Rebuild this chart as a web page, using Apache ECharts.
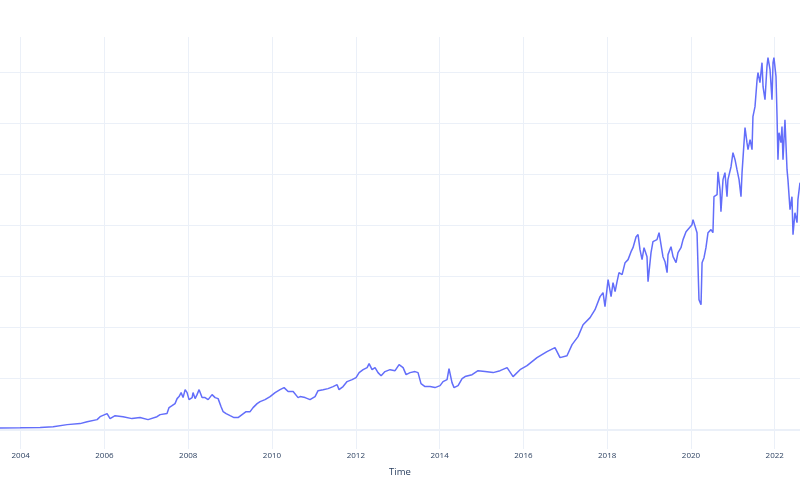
<!DOCTYPE html>
<html>
<head>
<meta charset="utf-8">
<script src="https://cdn.jsdelivr.net/npm/echarts@6/dist/echarts.min.js"></script>
<style>
  html, body { margin: 0; padding: 0; background: #fff; }
  #main-chart { width: 800px; height: 500px; }
</style>
</head>
<body>
<div id="main-chart"></div>
<script>
// 読み取った値（日付と終値）
const dates = [
  '2003-07-05','2003-12-28','2004-06-19','2004-10-11','2005-02-10','2005-06-03','2005-08-03','2005-10-29',
  '2005-11-24','2006-01-24','2006-02-19','2006-04-04','2006-06-12','2006-08-29','2006-11-07','2007-01-16',
  '2007-04-04',
  '2007-05-01','2007-06-30','2007-07-18','2007-08-13','2007-09-08','2007-09-26','2007-10-13','2007-10-31',
  '2007-11-17','2007-12-05','2007-12-22','2008-01-08','2008-02-04','2008-02-12','2008-03-01','2008-03-18',
  '2008-04-05','2008-05-01','2008-05-27','2008-06-23','2008-07-27','2008-08-23','2008-09-18','2008-10-14',
  '2008-11-01','2008-11-27','2009-01-01','2009-02-04','2009-03-11','2009-04-15','2009-05-20','2009-06-24',
  '2009-07-20','2009-08-24','2009-09-19','2009-11-01','2009-12-15','2010-01-28','2010-03-12','2010-04-16',
  '2010-05-21','2010-07-04','2010-08-16','2010-09-03','2010-10-16','2010-11-28','2011-01-11','2011-02-06',
  '2011-03-22','2011-05-04','2011-06-17','2011-07-22','2011-08-08','2011-09-12','2011-10-17','2011-11-30',
  '2012-01-03','2012-01-30','2012-03-05','2012-04-09','2012-04-26','2012-05-22','2012-06-17','2012-07-13',
  '2012-08-09','2012-09-12','2012-10-26','2012-12-09','2013-01-13','2013-02-17','2013-03-15','2013-04-19',
  '2013-06-01','2013-06-27','2013-07-23','2013-08-27','2013-10-10','2013-11-22','2014-01-05','2014-01-31',
  '2014-03-07','2014-03-24','2014-04-19','2014-05-07','2014-06-11',
  '2014-07-16','2014-08-11','2014-10-11','2014-12-02','2015-02-01','2015-04-12','2015-06-12','2015-08-12',
  '2015-10-03','2015-12-03','2016-02-02','2016-04-29','2016-07-25','2016-10-03','2016-11-16','2017-01-16',
  '2017-03-01','2017-04-22','2017-06-05','2017-08-05','2017-09-17',
  '2017-10-31','2017-11-26','2017-12-13','2018-01-09','2018-02-04','2018-02-21',
  '2018-03-11','2018-03-28','2018-04-14','2018-05-11','2018-06-06','2018-07-02','2018-07-28','2018-08-14',
  '2018-09-10','2018-09-27','2018-10-14','2018-11-01','2018-11-18','2018-12-14','2018-12-23','2019-01-18',
  '2019-02-04','2019-03-11','2019-03-29','2019-04-15','2019-05-02','2019-05-20','2019-06-07','2019-06-15',
  '2019-07-11','2019-07-29','2019-08-24','2019-09-10','2019-10-06','2019-10-24','2019-11-19','2019-12-06',
  '2020-01-10','2020-01-19','2020-02-23','2020-03-11','2020-03-29','2020-04-07','2020-04-24','2020-05-11',
  '2020-05-29','2020-06-24','2020-07-11','2020-07-20','2020-08-16','2020-08-24','2020-09-11','2020-09-19',
  '2020-10-07','2020-10-24','2020-11-11','2020-11-19','2020-12-16','2021-01-02','2021-01-20','2021-02-06',
  '2021-02-24','2021-03-13','2021-03-22','2021-04-17','2021-05-04','2021-05-13','2021-05-31','2021-06-17',
  '2021-06-25','2021-07-13','2021-07-31','2021-08-08','2021-08-25','2021-09-12','2021-09-21','2021-10-08',
  '2021-10-25','2021-11-03','2021-11-21','2021-12-08','2021-12-17','2021-12-25','2022-01-12','2022-01-21',
  '2022-01-29','2022-02-07','2022-02-24','2022-03-05','2022-03-14','2022-03-31','2022-04-18','2022-04-26',
  '2022-05-14','2022-05-31','2022-06-09','2022-06-26','2022-07-14','2022-07-22','2022-08-09'
];
const prices = [
  1.6, 1.8, 2.2, 2.9, 4.9, 5.9, 7.8, 9.8,
  12.7, 15.7, 10.8, 13.7, 12.7, 10.8, 11.8, 9.8,
  12.7,
  14.7, 15.7, 21.6, 23.5, 25.5, 30.4, 32.4, 36.3,
  31.4, 39.2, 36.3, 29.4, 31.4, 36.3, 30.4, 34.3,
  39.2, 31.4, 31.4, 29.4, 34.3, 31.4, 30.4, 22.5,
  17.6, 15.7, 13.7, 11.8, 11.8, 14.7, 17.6, 17.6,
  21.6, 25.5, 27.5, 29.4, 32.4, 36.3, 39.2, 41.2,
  37.3, 37.3, 31.4, 32.4, 31.4, 29.4, 32.4, 38.2,
  39.2, 40.2, 42.2, 44.1, 39.2, 42.2, 47.1, 49.0,
  51.0, 55.9, 58.8, 60.8, 64.7, 58.8, 60.8, 55.9,
  52.9, 56.9, 58.8, 57.8, 63.7, 60.8, 53.9, 55.9,
  56.9, 55.9, 45.1, 42.2, 42.2, 41.2, 43.1, 47.1,
  49.0, 59.8, 46.1, 41.2, 43.1,
  50.0, 52.0, 53.9, 57.8, 56.9, 55.9, 57.8, 60.8,
  52.0, 58.8, 62.7, 70.6, 76.5, 80.4, 70.6, 72.5,
  83.3, 91.2, 102.9, 109.8, 117.6,
  130.4, 134.3, 120.6, 147.1, 130.4, 144.1,
  135.3, 145.1, 153.9, 152.0, 163.7, 166.7, 174.5, 178.4,
  189.2, 191.2, 176.5, 166.7, 178.4, 169.6, 145.1, 173.5,
  184.3, 186.3, 193.1, 194.1, 169.6, 164.7, 153.9, 171.6,
  179.4, 169.6, 163.7, 173.5, 178.4, 186.3, 194.1, 193.1,
  201.0, 205.9, 193.1, 127.5, 122.5, 163.7, 168.6, 178.4,
  193.1, 196.1, 193.1, 228.4, 230.4, 252.9, 235.3, 213.7,
  245.1, 252.0, 228.4, 245.1, 257.8, 271.6, 264.7, 254.9,
  245.1, 228.4, 252.0, 296.1, 281.4, 274.5, 284.3, 274.5,
  306.9, 316.7, 343.1, 350.0, 340.2, 359.8, 336.3, 323.5,
  355.9, 364.7, 352.9, 323.5, 359.8, 364.7, 346.1, 306.9,
  264.7, 291.2, 281.4, 297.1, 264.7, 303.9, 254.9, 245.1,
  215.7, 228.4, 191.2, 212.7, 202.9, 225.5, 242.2
];
const gridValues = [50, 100, 150, 200, 250, 300, 350];

// 日付を小数の年に変換
function toYear(s) {
  const [y, m, d] = s.split('-').map(Number);
  const start = Date.UTC(y, 0, 1);
  const end = Date.UTC(y + 1, 0, 1);
  return y + (Date.UTC(y, m - 1, d) - start) / (end - start);
}
const seriesData = dates.map((s, i) => [toYear(s), prices[i]]);

const chartContainer = document.getElementById('main-chart');
const myChart = echarts.init(chartContainer);

const gridColor = '#EBF0F8';
const textColor = '#2a3f5f';

const option = {
  animation: false,
  backgroundColor: '#fff',
  grid: { left: 0, right: 0, top: 37, bottom: 51, containLabel: false },
  xAxis: {
    type: 'value',
    min: 'dataMin',
    max: 'dataMax',
    splitNumber: 10,
    name: 'Time',
    nameLocation: 'middle',
    nameGap: 18,
    nameTextStyle: { color: textColor, fontSize: 9.5, fontFamily: 'Open Sans' },
    axisLine: { show: false },
    axisTick: { show: false },
    axisLabel: {
      color: textColor,
      fontSize: 8,
      fontFamily: 'Open Sans',
      margin: 3,
      showMinLabel: false,
      showMaxLabel: false,
      formatter: v => String(Math.round(v))
    },
    splitLine: {
      show: true,
      showMinLine: false,
      showMaxLine: false,
      lineStyle: { color: gridColor, width: 1 }
    }
  },
  yAxis: {
    type: 'value',
    min: -19,
    max: 385,
    axisLine: { show: false },
    axisTick: { show: false },
    axisLabel: { show: false },
    splitLine: { show: false }
  },
  series: [
    {
      type: 'line',
      data: seriesData,
      showSymbol: false,
      lineStyle: { color: '#636efa', width: 1.5 },
      z: 3,
      markLine: {
        silent: true,
        symbol: 'none',
        label: { show: false },
        z: 1,
        data: [
          { yAxis: 0, lineStyle: { color: gridColor, width: 2, type: 'solid' } }
        ].concat(gridValues.map(v => ({ yAxis: v, lineStyle: { color: gridColor, width: 1, type: 'solid' } })))
      }
    }
  ]
};

myChart.setOption(option);
</script>
</body>
</html>
